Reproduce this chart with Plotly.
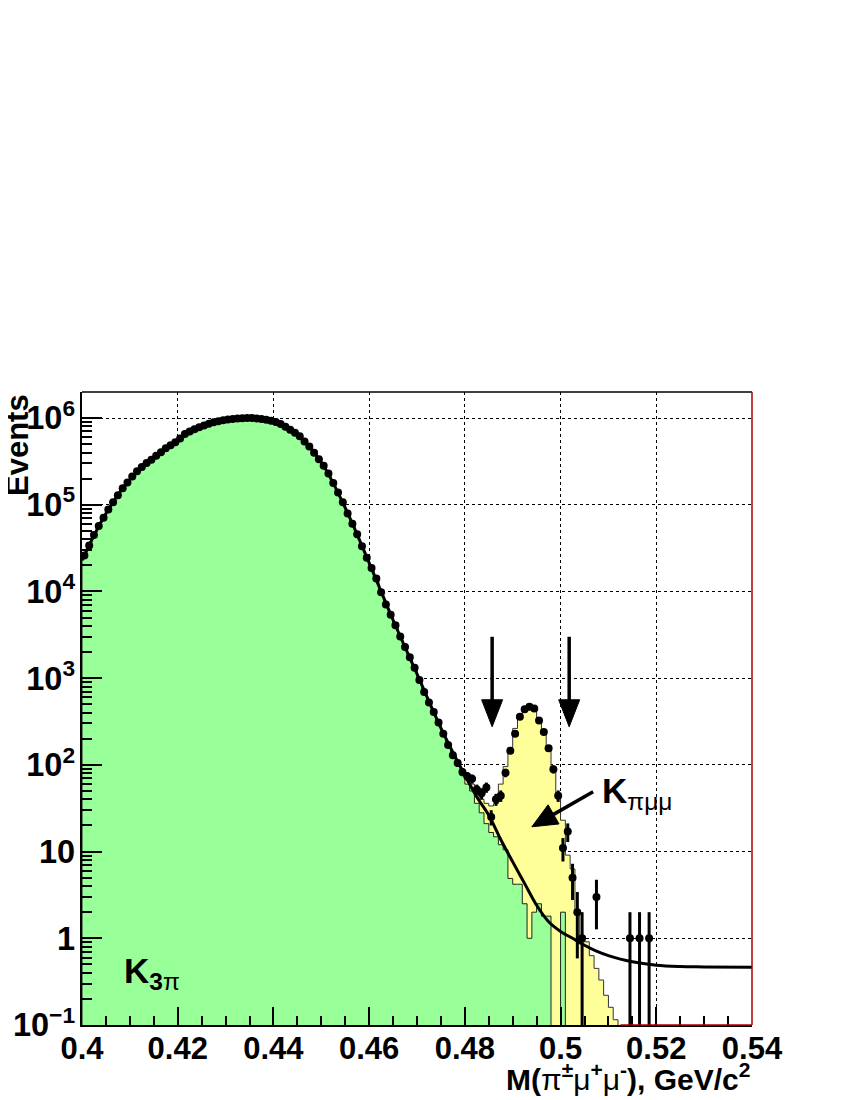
import numpy as np
import plotly.graph_objects as go

# binning of the mass histograms (GeV/c^2)
BIN_LOW = 0.400
BIN_WIDTH = 0.001

# observed events per bin, 0.400 ... 0.540
data_counts = [
    26000, 33900, 44700, 56900, 70800, 88100, 107000, 129000, 155000, 180000,
    211000, 243000, 272000, 302000, 331000, 367000, 403000, 447000, 484000, 525000,
    582000, 653000, 700000, 741000, 785000, 822000, 861000, 891000, 918000, 944000,
    964000, 977000, 989000, 995000, 1000000, 998000, 989000, 977000, 955000, 933000,
    902000, 851000, 794000, 733000, 676000, 617000, 537000, 468000, 398000, 335000,
    282000, 229000, 178000, 138000, 107000, 79400, 60300, 45700, 33100, 24500,
    18600, 14100, 9770, 7080, 5370, 4070, 3020, 2290, 1740, 1320,
    955, 692, 525, 407, 309, 229, 170, 129, 105, 83,
    74, 69, 52, 47, 55, 25, 40, 44, 81, 145,
    229, 359, 437, 468, 447, 324, 240, 155, 89, 44,
    11, 17, 5, 2, 1, 0, 0, 3, 0, 0,
    0, 0, 0, 0, 1, 0, 1, 0, 1, 0,
    0, 0, 0, 0, 0, 0, 0, 0, 0, 0,
    0, 0, 0, 0, 0, 0, 0, 0, 0, 0,
]

# K -> 3pi Monte Carlo (green)
k3pi_mc = [
    26000, 33900, 44700, 56900, 70800, 88100, 107000, 129000, 155000, 180000,
    211000, 243000, 272000, 302000, 331000, 367000, 403000, 447000, 484000, 525000,
    582000, 653000, 700000, 741000, 785000, 822000, 861000, 891000, 918000, 944000,
    964000, 977000, 989000, 995000, 1000000, 998000, 989000, 977000, 955000, 933000,
    902000, 851000, 794000, 733000, 676000, 617000, 537000, 468000, 398000, 335000,
    282000, 229000, 178000, 138000, 107000, 79400, 60300, 45700, 33100, 24500,
    18600, 14100, 9770, 7080, 5370, 4070, 3020, 2290, 1740, 1320,
    930, 672, 510, 395, 300, 222, 165, 125, 100, 76,
    60, 50, 36, 28, 21, 16.6, 14.8, 12.0, 10.5, 4.9,
    4.2, 4.2, 2.5, 1.0, 2.0, 2.5, 1.8, 1.8, 0, 0,
    2.0, 0, 0, 0, 0, 0, 0, 0, 0, 0,
    0, 0, 0, 0, 0, 0, 0, 0, 0, 0,
    0, 0, 0, 0, 0, 0, 0, 0, 0, 0,
    0, 0, 0, 0, 0, 0, 0, 0, 0, 0,
]

# K -> pi mu mu Monte Carlo (yellow, stacked on top of K3pi)
kpimumu_mc = [0] * 78 + [
    5, 9,
    12, 10, 14, 12, 15, 17, 21, 48, 85, 154,
    259, 376, 444, 467, 425, 336, 238, 153, 91, 47,
    21, 9.1, 6.3, 2.0, 1.05, 0.91, 0.63, 0.45, 0.33, 0.22,
    0.16, 0.115,
] + [0] * 28

# background fit curve
fit_mass = [0.400, 0.405, 0.410, 0.415, 0.420, 0.425, 0.430, 0.435, 0.440, 0.445,
            0.450, 0.455, 0.460, 0.465, 0.470, 0.475, 0.480, 0.4825, 0.485, 0.4875,
            0.490, 0.4925, 0.495, 0.4975, 0.500, 0.5025, 0.505, 0.5075, 0.510, 0.5125,
            0.515, 0.520, 0.525, 0.530, 0.540]
fit_values = [22900, 79400, 195000, 351000, 552000, 804000, 955000, 1000000, 916000, 646000,
              309000, 92300, 21400, 4680, 1120, 266, 76, 42.7, 26.3, 13.8,
              7.6, 4.27, 2.40, 1.55, 1.20, 1.0, 0.83, 0.71, 0.63, 0.575,
              0.537, 0.49, 0.473, 0.468, 0.462]

# signal window arrows (mass, counts at tail, counts at tip)
cut_mass = [0.4857, 0.5018]
cut_arrow_from, cut_arrow_to = 3000, 275

FONT = "Liberation Sans"
GREEN = "#99FF99"
YELLOW = "#FFFF99"

X_RANGE = (0.40, 0.54)
Y_RANGE = (-1.0, 6.3)
# the page adds an 8 px body margin, so the figure is 8 px smaller each way
W, H = 842, 1092
ML, MR, MT, MB = 74, 98, 384, 75
PW, PH = W - ML - MR, H - MT - MB
FLOOR = 1e-3  # empty bins drawn below the axis

n_bins = len(data_counts)
edges = BIN_LOW + BIN_WIDTH * np.arange(n_bins + 1)
centers = edges[:-1] + BIN_WIDTH / 2


def step_polygon(values):
    v = np.where(np.asarray(values, float) > 0, values, FLOOR)
    x = np.concatenate([[edges[0]], edges[:-1], [edges[-1], edges[-1]]])
    y = np.concatenate([[FLOOR], v, [v[-1], FLOOR]])
    return x, y


def to_px(m, v):
    # position inside the plot area, in pixels from its bottom-left corner
    fx = (m - X_RANGE[0]) / (X_RANGE[1] - X_RANGE[0])
    fy = (np.log10(v) - Y_RANGE[0]) / (Y_RANGE[1] - Y_RANGE[0])
    return fx * PW, -fy * PH


def to_paper(px, py):
    return px / PW, -py / PH


def arrow_shapes(tail, tip, head_len, head_w, width=3.5):
    x0, y0 = to_px(*tail)
    x1, y1 = to_px(*tip)
    d = np.hypot(x1 - x0, y1 - y0)
    ux, uy = (x1 - x0) / d, (y1 - y0) / d
    bx, by = x1 - ux * head_len, y1 - uy * head_len
    nx, ny = -uy, ux
    a = to_paper(x0, y0)
    b = to_paper(bx + ux * 2, by + uy * 2)
    p1 = to_paper(x1, y1)
    p2 = to_paper(bx + nx * head_w / 2, by + ny * head_w / 2)
    p3 = to_paper(bx - nx * head_w / 2, by - ny * head_w / 2)
    return [
        dict(type="line", xref="paper", yref="paper", x0=a[0], y0=a[1], x1=b[0], y1=b[1],
             line=dict(color="black", width=width)),
        dict(type="path", xref="paper", yref="paper",
             path=f"M{p1[0]},{p1[1]} L{p2[0]},{p2[1]} L{p3[0]},{p3[1]} Z",
             fillcolor="black", line=dict(color="black", width=1)),
    ]


total_mc = np.array(k3pi_mc, float) + np.array(kpimumu_mc, float)

fig = go.Figure()

xs, ys = step_polygon(total_mc)
fig.add_trace(go.Scatter(x=xs, y=ys, mode="lines", line_shape="hv", fill="toself",
                         fillcolor=YELLOW, line=dict(color="#333333", width=1),
                         hoverinfo="skip", showlegend=False))

xs, ys = step_polygon(k3pi_mc)
fig.add_trace(go.Scatter(x=xs, y=ys, mode="lines", line_shape="hv", fill="toself",
                         fillcolor=GREEN, line=dict(color="#222222", width=1),
                         hoverinfo="skip", showlegend=False))

fig.add_trace(go.Scatter(x=fit_mass, y=fit_values, mode="lines", line_shape="spline",
                         line=dict(color="black", width=3), showlegend=False))

counts = np.array(data_counts, float)
mask = counts > 0
n = counts[mask]
err_hi = np.sqrt(n)
err_lo = n - np.maximum(n - np.sqrt(n), 0.02)
fig.add_trace(go.Scatter(
    x=centers[mask], y=n, mode="markers",
    marker=dict(color="black", size=8),
    error_y=dict(type="data", array=err_hi, arrayminus=err_lo, symmetric=False,
                 color="black", thickness=3, width=0),
    showlegend=False,
))

shapes = []
for m in cut_mass:
    shapes += arrow_shapes((m, cut_arrow_from), (m, cut_arrow_to), 27, 21)
shapes += arrow_shapes((0.5068, 49), (0.4940, 19.3), 25, 22)
# frame: top black, right red, red baseline beyond the MC
shapes.append(dict(type="line", xref="paper", yref="paper", x0=0, y0=1, x1=1, y1=1,
                   line=dict(color="black", width=1.5)))
shapes.append(dict(type="line", xref="paper", yref="paper", x0=1, y0=0, x1=1, y1=1,
                   line=dict(color="#B00000", width=1.5)))
shapes.append(dict(type="line", xref="paper", yref="paper",
                   x0=(0.5125 - X_RANGE[0]) / (X_RANGE[1] - X_RANGE[0]), y0=0, x1=1, y1=0,
                   line=dict(color="#B00000", width=1.5)))

bold = dict(family=FONT, color="black", weight="bold")
thin = '<span style="font-weight:normal">{}</span>'

annotations = [
    dict(text="K<sub>3" + thin.format("π") + "</sub>", x=0.4083, y=-0.40, xref="x", yref="y",
         xanchor="left", yanchor="middle", showarrow=False, font=dict(size=35, **bold)),
    dict(text="K<sub>" + thin.format("πμμ") + "</sub>", x=0.5082, y=1.68, xref="x", yref="y",
         xanchor="left", yanchor="middle", showarrow=False, font=dict(size=35, **bold)),
    dict(text="Events", x=-65 / PW, y=1.0, xref="paper", yref="paper",
         xanchor="center", yanchor="top", textangle=-90, showarrow=False,
         font=dict(size=31, **bold)),
    dict(text="M(" + thin.format("π") + "<sup>±</sup>" + thin.format("μ") + "<sup>+</sup>"
              + thin.format("μ") + "<sup>-</sup>), GeV/c<sup>2</sup>",
         x=1.0, y=-52 / PH, xref="paper", yref="paper", xanchor="right", yanchor="middle",
         showarrow=False, font=dict(size=30, **bold)),
]

fig.update_layout(
    width=W, height=H, autosize=False,
    margin=dict(l=ML, r=MR, t=MT, b=MB),
    plot_bgcolor="white", paper_bgcolor="white",
    shapes=shapes, annotations=annotations,
    xaxis=dict(
        range=list(X_RANGE), tickmode="linear", tick0=0.4, dtick=0.02,
        ticks="inside", ticklen=18, tickwidth=1.5, tickcolor="black",
        minor=dict(dtick=0.005, ticks="inside", ticklen=9, tickwidth=1.5, tickcolor="black",
                   showgrid=False),
        showgrid=True, gridcolor="black", griddash="dot", gridwidth=1,
        showline=True, linecolor="black", linewidth=1.5,
        tickfont=dict(size=31, **bold), zeroline=False, automargin=False,
        ticklabelstandoff=-5,
    ),
    yaxis=dict(
        type="log", range=list(Y_RANGE), tickmode="linear", tick0=0, dtick=1,
        exponentformat="power",
        ticks="inside", ticklen=20, tickwidth=1.5, tickcolor="black",
        minor=dict(dtick="D1", ticks="inside", ticklen=10, tickwidth=1.5, tickcolor="black",
                   showgrid=False),
        showgrid=True, gridcolor="black", griddash="dot", gridwidth=1,
        showline=True, linecolor="black", linewidth=1.5,
        tickfont=dict(size=26, **bold), zeroline=False, automargin=False,
    ),
)

fig.write_html("out.html")
